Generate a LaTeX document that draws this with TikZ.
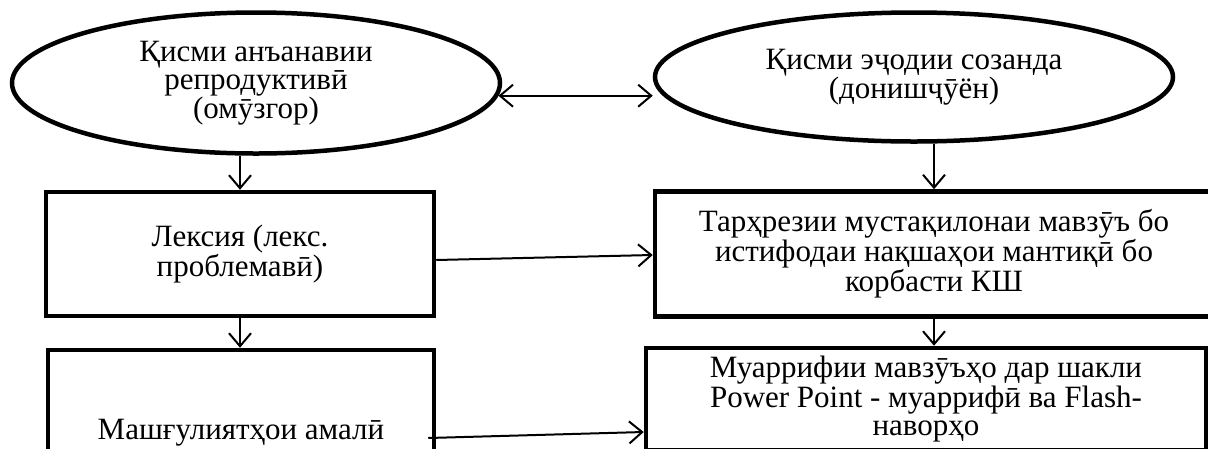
\documentclass[tikz,border=0pt]{standalone}
\usepackage{fontspec}
\setmainfont{Liberation Serif}
\usetikzlibrary{shapes.geometric,arrows.meta,positioning}
\tikzset{
  bulle/.style={ellipse, draw, line width=4.5pt, inner sep=0pt, align=center},
  boite/.style={rectangle, draw, line width=4.5pt, inner sep=0pt, align=center},
  fleche/.style={-{Straight Barb[length=13pt,width=22pt]}, line width=2pt},
  fleches/.style={{Straight Barb[length=13pt,width=22pt]}-{Straight Barb[length=13pt,width=22pt]}, line width=2pt},
}
\begin{document}
\begin{tikzpicture}[x=1pt, y=1pt, font=\fontsize{31}{28}\selectfont]
  \useasboundingbox (0,0) rectangle (1208,-448);
  \node[bulle, minimum width=488pt, minimum height=141pt] (trad) at (256,-83) {Қисми анъанавии\\репродуктивӣ\\(омӯзгор)};
  \node[bulle, minimum width=518pt, minimum height=129pt] (ejod) at (914,-77) {Қисми эҷодии созанда\\(донишҷӯён)};
  \node[boite, minimum width=388pt, minimum height=124pt] (leksia) at (240,-254) {Лексия (лекс.\\проблемавӣ)};
  \node[boite, minimum width=558pt, minimum height=125pt] (tarh) at (934,-254) {Тарҳрезии мустақилонаи мавзӯъ бо\\истифодаи нақшаҳои мантиқӣ бо\\корбасти КШ};
  \node[boite, minimum width=386pt, minimum height=166pt] (amali) at (241,-433) {Машғулиятҳои амалӣ};
  \node[boite, minimum width=560pt, minimum height=102pt] (muarr) at (926,-399) {Муаррифии мавзӯъҳо дар шакли\\Power Point - муаррифӣ ва Flash-\\наворҳо};
  % % пайвастҳо
  \draw[fleches] (trad.-3) -- (trad.-3 -| ejod.west);
  \draw[fleche] (trad.south -| leksia.north) -- (leksia.north);
  \draw[fleche] (leksia.south) -- (leksia.south |- amali.north);
  \draw[fleche] (ejod.south -| tarh.north) -- (tarh.north);
  \draw[fleche] (tarh.south) -- (tarh.south |- muarr.north);
  \draw[fleche] ([yshift=-6pt]leksia.east) -- ([yshift=-1pt]tarh.west);
  \draw[fleche] ([xshift=-8pt,yshift=-5pt]amali.east) -- ([yshift=-33pt]muarr.west);
\end{tikzpicture}
\end{document}
